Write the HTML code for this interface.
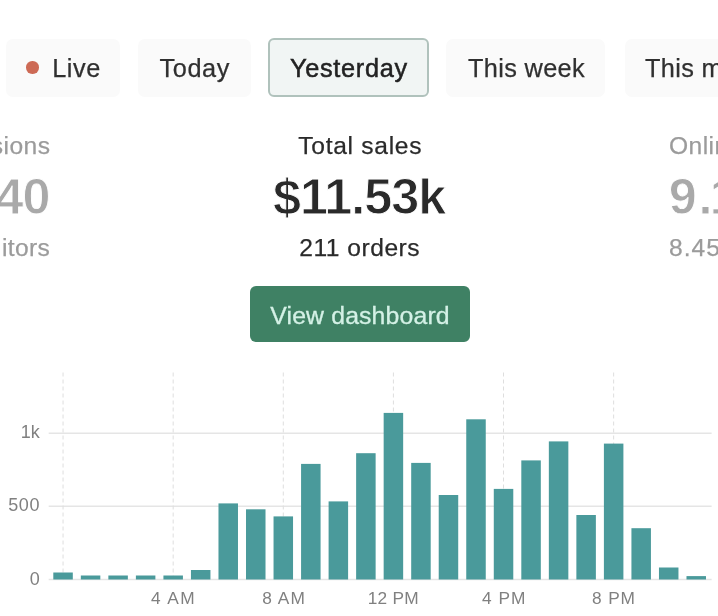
<!DOCTYPE html>
<html><head><meta charset="utf-8"><title>Dashboard</title>
<style>
html,body{margin:0;padding:0;background:#fff;}
body{width:718px;height:616px;position:relative;overflow:hidden;font-family:"Liberation Sans",sans-serif;color:#2a2a2a;filter:blur(0.45px);}
.tab{position:absolute;top:38.5px;height:58px;background:#fafafa;border-radius:7px;box-sizing:border-box;font-size:25.3px;line-height:58.6px;white-space:nowrap;color:#303030;-webkit-text-stroke:0.25px #303030;}
.tab span{position:absolute;top:0;}
.tab.sel{top:38.4px;height:58.3px;background:#f1f5f4;border:2px solid #b0c2bc;border-radius:6px;color:#222;line-height:56.2px}
.dot{position:absolute;width:12.5px;height:12.5px;border-radius:50%;background:#cd6a55;}
.t{position:absolute;white-space:nowrap;line-height:1;}
.lbl{font-size:24.6px;-webkit-text-stroke:0.25px currentColor;}
.big{font-size:50.3px;font-weight:bold;-webkit-text-stroke:0.9px #fff;letter-spacing:-0.95px;}
.g1{color:#9b9b9b;}
.g2{color:#a9a9a9;}
.btn{position:absolute;left:250px;top:286.2px;width:220px;height:56px;background:#3f8164;border-radius:6px;color:#d4f1e6;font-size:24.8px;line-height:59.2px;text-align:center;letter-spacing:0.15px;-webkit-text-stroke:0.3px #d4f1e6;}
svg{position:absolute;left:0;top:0;}
svg text{font-family:"Liberation Sans",sans-serif;fill:#808080;}
</style></head><body>

<div class="tab" style="left:6px;width:114px;"><i class="dot" style="left:20.3px;top:22.8px"></i><span style="left:46.2px;letter-spacing:0.6px">Live</span></div>
<div class="tab" style="left:138px;width:113px;"><span style="left:21.5px;letter-spacing:0.6px">Today</span></div>
<div class="tab sel" style="left:268px;width:161.3px;"><span style="left:20px;-webkit-text-stroke:0.5px #222;letter-spacing:0.7px">Yesterday</span></div>
<div class="tab" style="left:446px;width:159px;"><span style="left:22px;letter-spacing:0.35px">This week</span></div>
<div class="tab" style="left:624.5px;width:160px;"><span style="left:20.5px;letter-spacing:0.35px">This month</span></div>

<div class="t lbl g1" style="right:667.5px;top:134px;letter-spacing:0.45px">Sessions</div>
<div class="t big g2" style="right:668.5px;top:171.5px;">740</div>
<div class="t lbl g1" style="right:668px;top:236.3px;letter-spacing:0.3px"><span style="margin-right:5px">vis</span>itors</div>

<div class="t lbl" style="left:298.3px;top:134px;letter-spacing:0.7px">Total sales</div>
<div class="t big" style="left:273px;top:171.5px;">$11.53k</div>
<div class="t lbl" style="left:299.3px;top:236.3px;letter-spacing:0.5px">211 orders</div>

<div class="t lbl g1" style="left:669px;top:134px;letter-spacing:0.45px">Online store</div>
<div class="t big g2" style="left:668.8px;top:171.5px;letter-spacing:1.6px">9<span style="letter-spacing:-2.6px">.</span>1k</div>
<div class="t lbl g1" style="left:669px;top:236.3px;letter-spacing:1.0px">8.45%</div>

<div class="btn">View dashboard</div>

<svg width="718" height="616" viewBox="0 0 718 616">
<g stroke="#e5e5e5" stroke-width="1.5">
<line x1="48.7" y1="433.3" x2="711.6" y2="433.3"/>
<line x1="48.7" y1="506.2" x2="711.6" y2="506.2"/>
<line x1="48.7" y1="579.5" x2="711.6" y2="579.5"/>
</g>
<g stroke="#dedede" stroke-width="1" stroke-dasharray="4 3"><line x1="63.05" y1="372.5" x2="63.05" y2="579.5"/><line x1="173.17" y1="372.5" x2="173.17" y2="579.5"/><line x1="283.29" y1="372.5" x2="283.29" y2="579.5"/><line x1="393.41" y1="372.5" x2="393.41" y2="579.5"/><line x1="503.53" y1="372.5" x2="503.53" y2="579.5"/><line x1="613.65" y1="372.5" x2="613.65" y2="579.5"/></g>
<g fill="#4a9a9b"><rect x="53.30" y="572.50" width="19.5" height="7.00"/><rect x="80.83" y="575.50" width="19.5" height="4.00"/><rect x="108.36" y="575.50" width="19.5" height="4.00"/><rect x="135.89" y="575.50" width="19.5" height="4.00"/><rect x="163.42" y="575.50" width="19.5" height="4.00"/><rect x="190.95" y="570.00" width="19.5" height="9.50"/><rect x="218.48" y="503.40" width="19.5" height="76.10"/><rect x="246.01" y="509.30" width="19.5" height="70.20"/><rect x="273.54" y="516.40" width="19.5" height="63.10"/><rect x="301.07" y="463.90" width="19.5" height="115.60"/><rect x="328.60" y="501.40" width="19.5" height="78.10"/><rect x="356.13" y="453.20" width="19.5" height="126.30"/><rect x="383.66" y="412.90" width="19.5" height="166.60"/><rect x="411.19" y="462.90" width="19.5" height="116.60"/><rect x="438.72" y="495.00" width="19.5" height="84.50"/><rect x="466.25" y="419.30" width="19.5" height="160.20"/><rect x="493.78" y="488.90" width="19.5" height="90.60"/><rect x="521.31" y="460.40" width="19.5" height="119.10"/><rect x="548.84" y="441.40" width="19.5" height="138.10"/><rect x="576.37" y="515.00" width="19.5" height="64.50"/><rect x="603.90" y="443.60" width="19.5" height="135.90"/><rect x="631.43" y="528.20" width="19.5" height="51.30"/><rect x="658.96" y="567.50" width="19.5" height="12.00"/><rect x="686.49" y="576.10" width="19.5" height="3.40"/></g>
<g font-size="18" text-anchor="end"><text x="39.7" y="437.7">1k</text><text x="40.3" y="510.8" letter-spacing="0.7">500</text><text x="39.7" y="585">0</text></g>
<g font-size="17.3" text-anchor="middle"><text x="173.45" y="603.5" letter-spacing="1.4">4 AM</text><text x="284.05" y="603.5" letter-spacing="1.1">8 AM</text><text x="393.32" y="603.5" letter-spacing="0.25">12 PM</text><text x="504.20" y="603.5" letter-spacing="1.0">4 PM</text><text x="613.92" y="603.5" letter-spacing="0.85">8 PM</text></g>
</svg>
</body></html>
